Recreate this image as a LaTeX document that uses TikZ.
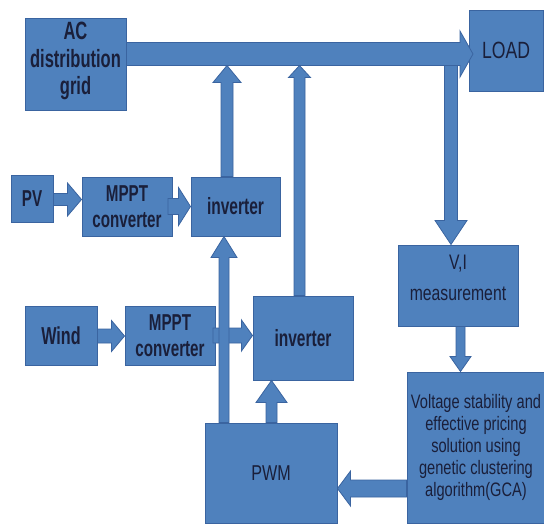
\documentclass[tikz,border=0pt]{standalone}
\usepackage{fontspec}
\setmainfont{Liberation Sans}[FakeStretch=0.75]
\newfontfamily\boldnarrow{Liberation Sans}[FakeStretch=0.66]
\usetikzlibrary{calc}
\definecolor{boxblue}{HTML}{4F81BD}
\definecolor{edgeblue}{HTML}{3A64A0}
\definecolor{txtcol}{HTML}{1A1F3A}
\tikzset{
  box/.style={draw=edgeblue, line width=1pt, fill=boxblue, text=txtcol, align=center, inner sep=0pt},
  boldtxt/.style={font=\boldnarrow\bfseries\fontsize{23.5}{26}\selectfont},
  barrowstyle/.style={draw=edgeblue, line width=0.8pt, fill=boxblue, line join=miter}
}
% #1 start, #2 tip, #3 half shaft width, #4 half head width, #5 head length
\newcommand\blockarrow[5]{%
  \coordinate (ba-base) at ($(#2)!#5!(#1)$);
  \draw[barrowstyle] ($(#1)!#3!90:(#2)$) -- ($(ba-base)!#3!-90:(#1)$) -- ($(ba-base)!#4!-90:(#1)$) -- (#2)
     -- ($(ba-base)!#4!90:(#1)$) -- ($(ba-base)!#3!90:(#1)$) -- ($(#1)!#3!-90:(#2)$) -- cycle;
}
\begin{document}
\begin{tikzpicture}[x=1pt,y=-1pt]
\useasboundingbox[fill=white] (0,0) rectangle (544,525);

% boxes
\node[box,minimum width=101pt,minimum height=92pt] (ac) at (75.5,64) {};
\node[font=\boldnarrow\bfseries\fontsize{25}{27.5}\selectfont,text=txtcol,align=center,inner sep=0pt] (aclabel) at ($(ac.center)+(0,-3)$) {AC\\distribution\\grid};
\node[box,font=\fontsize{23.5}{26}\selectfont,minimum width=74pt,minimum height=81pt] (load) at (506,50.5) {LOAD};
\node[box,boldtxt,font=\boldnarrow\bfseries\fontsize{23}{26}\selectfont,minimum width=42pt,minimum height=47pt] (pv) at (32,198.5) {PV};
\node[box,font=\boldnarrow\bfseries\fontsize{23}{26}\selectfont,minimum width=90pt,minimum height=59pt] (mppt1) at (127,206.5) {MPPT\\converter};
\node[box,boldtxt,minimum width=89pt,minimum height=59pt] (inv1) at (235.5,206.5) {inverter};
\node[box,font=\boldnarrow\bfseries\fontsize{24.5}{27}\selectfont,minimum width=72pt,minimum height=59pt] (wind) at (61,335.5) {Wind};
\node[box,font=\boldnarrow\bfseries\fontsize{23}{26}\selectfont,minimum width=90pt,minimum height=59pt] (mppt2) at (170,335.5) {MPPT\\converter};
\node[box,boldtxt,minimum width=100pt,minimum height=84pt] (inv2) at (303,338) {inverter};
\node[box,minimum width=120pt,minimum height=81pt] (vi) at (458,285.5) {};
\node[font=\fontsize{21}{31}\selectfont,text=txtcol,align=center,inner sep=0pt] (vilabel) at ($(vi.center)+(0,-8)$) {V,I\\measurement};
\node[box,font=\fontsize{19.5}{22}\selectfont,minimum width=138pt,minimum height=151pt] (gca) at (476,447.5) {Voltage stability and\\effective pricing\\solution using\\genetic clustering\\algorithm(GCA)};
\node[box,font=\fontsize{21.5}{24}\selectfont,minimum width=132pt,minimum height=100pt] (pwm) at (271,473) {PWM};

% arrow end points
\coordinate (m-s) at (ac.east |- 0,54);
\coordinate (m-t) at (473,54);
\coordinate (d-s) at (451,60);
\coordinate (d-t) at (451,0 |- vi.north);
\coordinate (u1-s) at (227,0 |- inv1.north);
\coordinate (u1-t) at (227,65.5);
\coordinate (u2-s) at (299.5,0 |- inv2.north);
\coordinate (u2-t) at (299.5,65.5);
\coordinate (pa-s) at (pv.east |- 0,199.5);
\coordinate (pa-t) at (mppt1.west |- 0,199.5);
\coordinate (ma-s) at (168,206.5);
\coordinate (ma-t) at (inv1.west);
\coordinate (wa-s) at (wind.east |- 0,336);
\coordinate (wa-t) at (mppt2.west |- 0,336);
\coordinate (ma2-s) at (213,335.5);
\coordinate (ma2-t) at (inv2.west |- 0,335.5);
\coordinate (p1-s) at (224,0 |- pwm.north);
\coordinate (p1-t) at (224,0 |- inv1.south);
\coordinate (p2-s) at (271.5,0 |- pwm.north);
\coordinate (p2-t) at (271.5,0 |- inv2.south);
\coordinate (v-s) at (460.5,0 |- vi.south);
\coordinate (v-t) at (460.5,0 |- gca.north);
\coordinate (g-s) at (gca.west |- 0,488.5);
\coordinate (g-t) at (pwm.east |- 0,488.5);

% arrows
\blockarrow{d-s}{d-t}{6.5pt}{16pt}{24pt}
\blockarrow{m-s}{m-t}{11.5pt}{23pt}{13pt}
\blockarrow{u1-s}{u1-t}{6pt}{14pt}{17pt}
\blockarrow{u2-s}{u2-t}{5.5pt}{11pt}{12pt}
\blockarrow{pa-s}{pa-t}{6pt}{16.5pt}{14pt}
\blockarrow{ma-s}{ma-t}{8pt}{19pt}{12pt}
\blockarrow{wa-s}{wa-t}{7pt}{15.5pt}{13pt}
\blockarrow{ma2-s}{ma2-t}{7.5pt}{15.5pt}{11pt}
\blockarrow{p1-s}{p1-t}{5pt}{13pt}{21pt}
\blockarrow{p2-s}{p2-t}{5.5pt}{15.5pt}{22pt}
\blockarrow{v-s}{v-t}{4.5pt}{10.5pt}{15pt}
\blockarrow{g-s}{g-t}{8.5pt}{17.5pt}{13pt}
\end{tikzpicture}
\end{document}
